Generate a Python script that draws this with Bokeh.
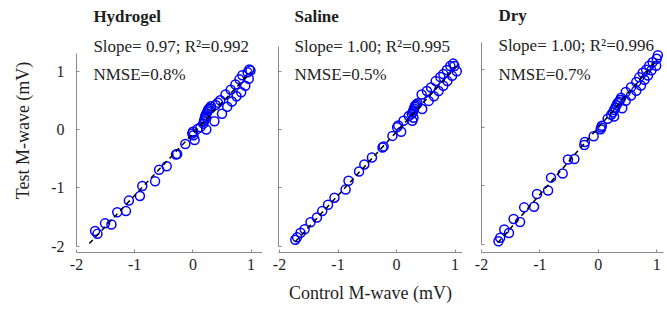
from bokeh.plotting import figure
from bokeh.layouts import row
from bokeh.models import Label, FixedTicker
from bokeh.embed import file_html
from bokeh.resources import INLINE

# ---------------- data ----------------
panel_names = ["Hydrogel", "Saline", "Dry"]
slope_texts = ["Slope= 0.97; R\u00b2=0.992", "Slope= 1.00; R\u00b2=0.995", "Slope= 1.00; R\u00b2=0.996"]
nmse_texts = ["NMSE=0.8%", "NMSE=0.5%", "NMSE=0.7%"]
x_axis_title = "Control M-wave (mV)"
y_axis_title = "Test M-wave (mV)"
tick_values = [-2, -1, 0, 1]
tick_labels = ["-2", "-1", "0", "1"]

hydrogel_control = [-1.68, -1.64, -1.51, -1.40, -1.30, -1.15, -1.10, -0.91, -0.87, -0.65,
                    -0.58, -0.45, -0.29, -0.27, -0.13, -0.01, 0.00, 0.01, 0.03, 0.08,
                    0.13, 0.23, 0.18, 0.19, 0.20, 0.21, 0.22, 0.23, 0.24, 0.25,
                    0.26, 0.27, 0.29, 0.31, 0.37, 0.39, 0.43, 0.47, 0.50, 0.56,
                    0.59, 0.65, 0.67, 0.73, 0.75, 0.80, 0.83, 0.85, 0.90, 0.94,
                    0.96, 0.97, 0.99]
hydrogel_test = [-1.74, -1.79, -1.61, -1.63, -1.42, -1.40, -1.22, -1.14, -0.97, -0.89,
                 -0.69, -0.63, -0.43, -0.42, -0.25, -0.07, -0.04, -0.10, -0.18, 0.01,
                 0.04, 0.00, 0.10, 0.14, 0.18, 0.22, 0.25, 0.20, 0.28, 0.31,
                 0.33, 0.35, 0.37, 0.40, 0.14, 0.42, 0.46, 0.50, 0.27, 0.60,
                 0.39, 0.68, 0.48, 0.77, 0.57, 0.86, 0.64, 0.93, 0.75, 0.98,
                 0.87, 1.03, 1.01]

saline_control = [-1.73, -1.70, -1.64, -1.57, -1.47, -1.36, -1.27, -1.17, -1.06, -0.87,
                  -0.82, -0.64, -0.55, -0.42, -0.24, -0.22, -0.07, 0.01, 0.03, 0.08,
                  0.12, 0.21, 0.26, 0.28, 0.29, 0.30, 0.31, 0.32, 0.34, 0.36,
                  0.27, 0.43, 0.52, 0.59, 0.67, 0.75, 0.80, 0.86, 0.92, 0.97,
                  0.99, 1.03, 0.95, 0.87, 0.80, 0.72, 0.64, 0.55, 0.44, 0.29]
saline_test = [-1.89, -1.85, -1.77, -1.71, -1.59, -1.51, -1.40, -1.29, -1.17, -1.03,
               -0.88, -0.72, -0.60, -0.48, -0.31, -0.29, -0.11, 0.04, 0.07, -0.04,
               0.15, 0.23, 0.27, 0.30, 0.33, 0.36, 0.39, 0.41, 0.43, 0.45,
               0.15, 0.60, 0.66, 0.72, 0.83, 0.90, 0.95, 1.02, 1.09, 1.13,
               1.09, 1.00, 0.92, 0.83, 0.75, 0.66, 0.57, 0.49, 0.35, 0.20]

dry_control = [-1.71, -1.68, -1.61, -1.53, -1.45, -1.34, -1.27, -1.10, -1.05, -0.86,
               -0.81, -0.61, -0.52, -0.41, -0.23, -0.24, -0.08, 0.05, 0.06, 0.04,
               0.16, 0.27, 0.22, 0.25, 0.27, 0.29, 0.31, 0.33, 0.35, 0.37,
               0.39, 0.47, 0.56, 0.65, 0.70, 0.76, 0.82, 0.87, 0.93, 1.00,
               1.02, 0.99, 0.91, 0.85, 0.79, 0.73, 0.65, 0.56, 0.47, 0.41]
dry_test = [-1.95, -1.89, -1.75, -1.81, -1.57, -1.62, -1.37, -1.36, -1.14, -1.08,
            -0.86, -0.79, -0.55, -0.54, -0.25, -0.30, -0.15, 0.00, 0.03, -0.03,
            0.15, 0.19, 0.22, 0.26, 0.30, 0.34, 0.38, 0.42, 0.44, 0.47,
            0.51, 0.61, 0.69, 0.78, 0.86, 0.94, 0.99, 1.06, 1.12, 1.18,
            1.24, 1.06, 0.98, 0.89, 0.82, 0.72, 0.63, 0.55, 0.46, 0.33]

fit_slope = [1.06, 1.09, 1.15]
fit_intercept = [-0.07, -0.04, 0.0]
fit_x_start = [-1.78, -1.73, -1.72]
fit_x_end = [1.00, 1.03, 1.02]

controls = [hydrogel_control, saline_control, dry_control]
tests = [hydrogel_test, saline_test, dry_test]

# ---------------- layout / style ----------------
FONT = "Liberation Serif"
AXIS_COLOR = "#8a8a8a"
TEXT_COLOR = "#1e1e1e"

widths = [262, 200, 205]
borders_left = [76, 16, 19]
borders_right = [0, 0, 4]
x_ranges = [(-2.0, 1.196), (-2.017, 1.128), (-2.0, 1.116)]
y_ranges = [(-2.11, 2.075), (-2.11, 2.075), (-2.144, 2.041)]
y_tops = [1.30, 1.43, 1.46]
text_x = [-1.71, -1.744, -1.71]
text_y = [[1.945, 1.43, 0.936], [1.937, 1.422, 0.937], [1.915, 1.40, 0.903]]

figs = []
for i in range(3):
    p = figure(width=widths[i], height=316,
               x_range=x_ranges[i], y_range=y_ranges[i],
               output_backend="svg", toolbar_location=None,
               min_border_left=borders_left[i], min_border_right=borders_right[i],
               min_border_top=8, min_border_bottom=64)
    p.outline_line_color = None
    p.grid.visible = False
    p.background_fill_color = "white"
    p.border_fill_color = "white"

    for ax in (p.xaxis[0], p.yaxis[0]):
        ax.ticker = FixedTicker(ticks=tick_values)
        ax.major_label_overrides = {v: l for v, l in zip(tick_values, tick_labels)}
        ax.axis_line_color = AXIS_COLOR
        ax.axis_line_width = 1
        ax.major_tick_line_color = AXIS_COLOR
        ax.major_tick_in = 3
        ax.major_tick_out = 0
        ax.minor_tick_line_color = None
        ax.major_label_text_font = FONT
        ax.major_label_text_font_size = "16px"
        ax.major_label_text_color = TEXT_COLOR
        ax.axis_label_text_font = FONT
        ax.axis_label_text_font_size = "18px"
        ax.axis_label_text_font_style = "normal"
        ax.axis_label_text_color = TEXT_COLOR

    p.xaxis.major_label_standoff = 6
    p.xaxis.axis_label_standoff = 10
    p.yaxis.bounds = (-2, y_tops[i])

    if i == 0:
        p.yaxis.axis_label = y_axis_title
        p.yaxis.major_label_standoff = 12
        p.yaxis.axis_label_standoff = 15
    else:
        p.yaxis.major_label_overrides = {v: "" for v in tick_values}
        p.yaxis.major_label_standoff = 0
    if i == 1:
        p.xaxis.axis_label = x_axis_title

    p.scatter(controls[i], tests[i], marker="circle", size=9,
              fill_color=None, line_color="#0000ff", line_width=1.5)

    xs = [fit_x_start[i], fit_x_end[i]]
    ys = [fit_slope[i] * x + fit_intercept[i] for x in xs]
    p.line(xs, ys, line_color="black", line_width=1.5, line_dash="5 4")

    texts = [panel_names[i], slope_texts[i], nmse_texts[i]]
    for j, t in enumerate(texts):
        p.add_layout(Label(x=text_x[i], y=text_y[i][j], text=t,
                           text_font=FONT, text_font_size="17px",
                           text_font_style="bold" if j == 0 else "normal",
                           text_color=TEXT_COLOR, text_baseline="alphabetic",
                           text_align="left"))
    figs.append(p)

layout = row(*figs, spacing=0)
open("out.html", "w").write(file_html(layout, INLINE, title="M-wave"))
